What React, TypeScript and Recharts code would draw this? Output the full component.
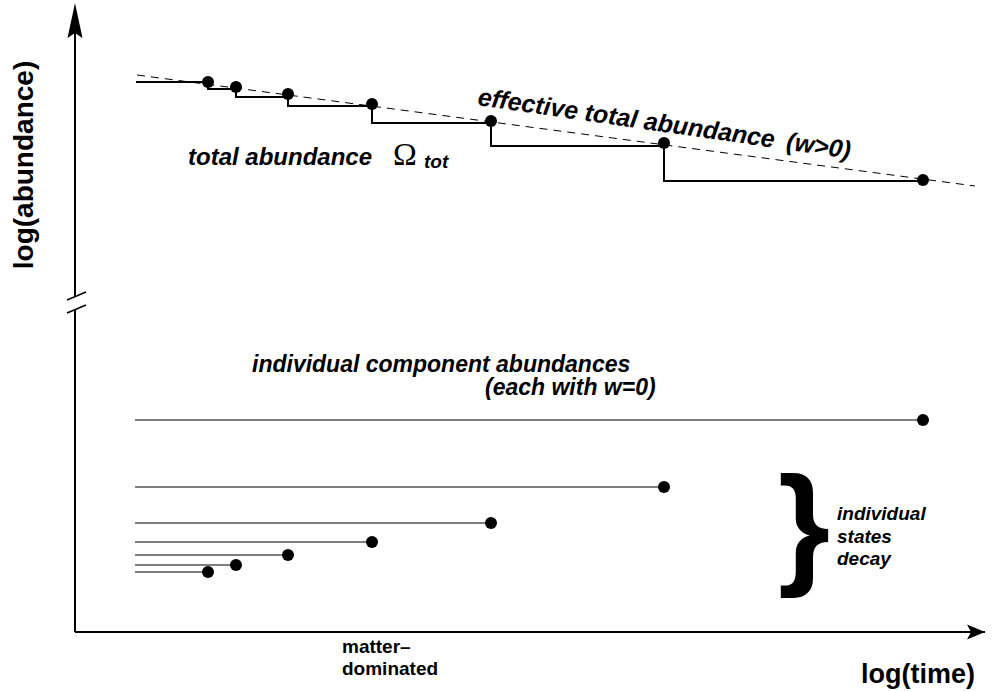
import type { JSX } from 'react'
import {
  ComposedChart,
  Line,
  ReferenceDot,
  ReferenceLine,
  Scatter,
  XAxis,
  YAxis,
} from 'recharts'

// schematic units: log(time) on x, log(abundance) on y
const START_TIME = 6.1
const COMPONENT_START = 6.0
const decayTimes = [13.3, 16.1, 21.3, 29.7, 41.6, 58.9, 84.8]
const totalAtDecay = [55.0, 54.5, 53.8, 52.8, 51.1, 48.9, 45.2]
const totalLevels = [55.0, 54.3, 53.5, 52.6, 50.9, 48.6, 45.1]
const componentLevels = [6.0, 6.7, 7.7, 9.0, 10.9, 14.5, 21.2]
const trendTimes = [6.2, 90]
const trendValues = [55.7, 44.6]

const X_MAX = 91
const Y_MAX = 62.9
const BREAK_LOW = 32.24
const BREAK_HIGH = 33.54

const SANS = '"Liberation Sans", Arial, Helvetica, sans-serif'
const SERIF = '"Liberation Serif", "Times New Roman", serif'
const INK = '#000'

const stepRows = [START_TIME, ...decayTimes].map((x, i) => ({
  x,
  y: totalLevels[Math.min(i, totalLevels.length - 1)],
}))
const totalDots = decayTimes.map((x, i) => ({ x, y: totalAtDecay[i] }))
const componentDots = decayTimes.map((x, i) => ({ x, y: componentLevels[i] }))
const trendRows = trendTimes.map((x, i) => ({ x, y: trendValues[i] }))

const renderDot = (p: any) => <circle cx={p.cx} cy={p.cy} r={6} fill={INK} />

function note(
  key: string,
  x: number,
  y: number,
  draw: (cx: number, cy: number) => JSX.Element,
) {
  return (
    <ReferenceDot
      key={key}
      x={x}
      y={y}
      ifOverflow="visible"
      shape={(p: any) => draw(p.cx, p.cy)}
    />
  )
}

const labelStyle = (size: number, italic = true) => ({
  fontFamily: SANS,
  fontSize: size,
  fontWeight: 700,
  fontStyle: italic ? 'italic' : 'normal',
  fill: INK,
})

export default function App() {
  return (
    <div style={{ position: 'absolute', left: 0, top: 0, background: '#fff' }}>
      <ComposedChart
        width={992}
        height={691}
        margin={{ top: 3, right: 7, bottom: 59, left: 75 }}
      >
        <XAxis
          type="number"
          dataKey="x"
          domain={[0, X_MAX]}
          allowDataOverflow
          hide
        />
        <YAxis
          type="number"
          dataKey="y"
          domain={[0, Y_MAX]}
          allowDataOverflow
          hide
        />

        {/* axes with a break on the vertical one */}
        <ReferenceLine y={0} stroke={INK} strokeWidth={2} />
        <ReferenceLine
          segment={[
            { x: 0, y: 0 },
            { x: 0, y: BREAK_LOW },
          ]}
          stroke={INK}
          strokeWidth={2}
        />
        <ReferenceLine
          segment={[
            { x: 0, y: BREAK_HIGH },
            { x: 0, y: Y_MAX - 2 },
          ]}
          stroke={INK}
          strokeWidth={2}
        />
        <ReferenceLine
          segment={[
            { x: -0.8, y: 33.2 },
            { x: 1.1, y: 34.0 },
          ]}
          ifOverflow="visible"
          stroke={INK}
          strokeWidth={1.5}
        />
        <ReferenceLine
          segment={[
            { x: -0.8, y: 31.9 },
            { x: 1.1, y: 32.7 },
          ]}
          ifOverflow="visible"
          stroke={INK}
          strokeWidth={1.5}
        />
        {note('arrow-x', X_MAX, 0, (cx, cy) => (
          <polygon
            points={`${cx},${cy} ${cx - 18},${cy - 7.5} ${cx - 14},${cy} ${cx - 18},${cy + 7.5}`}
            fill={INK}
          />
        ))}
        {note('arrow-y', 0, Y_MAX, (cx, cy) => (
          <polygon
            points={`${cx},${cy} ${cx + 7.5},${cy + 35} ${cx},${cy + 30} ${cx - 7.5},${cy + 35}`}
            fill={INK}
          />
        ))}

        {/* effective total abundance */}
        <Line
          data={trendRows}
          dataKey="y"
          type="linear"
          stroke={INK}
          strokeWidth={1}
          strokeDasharray="8 6"
          dot={false}
          activeDot={false}
          isAnimationActive={false}
        />
        {/* total abundance, stepping down at each decay */}
        <Line
          data={stepRows}
          dataKey="y"
          type="stepAfter"
          stroke={INK}
          strokeWidth={2}
          dot={false}
          activeDot={false}
          isAnimationActive={false}
        />
        <Scatter
          data={totalDots}
          dataKey="y"
          shape={renderDot}
          isAnimationActive={false}
        />

        {/* individual components */}
        {componentLevels.map((y, i) => (
          <Line
            key={`comp-${i}`}
            data={[
              { x: COMPONENT_START, y },
              { x: decayTimes[i], y },
            ]}
            dataKey="y"
            type="linear"
            stroke={INK}
            strokeWidth={1.2}
            dot={false}
            activeDot={false}
            isAnimationActive={false}
          />
        ))}
        <Scatter
          data={componentDots}
          dataKey="y"
          shape={renderDot}
          isAnimationActive={false}
        />

        {/* labels */}
        {note('ylabel', -4.2, 46.7, (cx, cy) => (
          <text
            x={cx}
            y={cy}
            textAnchor="middle"
            transform={`rotate(-90, ${cx}, ${cy})`}
            style={labelStyle(28, false)}
          >
            log(abundance)
          </text>
        ))}
        {note('xlabel', 78.6, -5.1, (cx, cy) => (
          <text x={cx} y={cy} style={labelStyle(27, false)}>
            log(time)
          </text>
        ))}
        {note('total', 11.3, 46.7, (cx, cy) => (
          <text x={cx} y={cy} style={labelStyle(24)}>
            total abundance
          </text>
        ))}
        {note('omega', 31.8, 46.7, (cx, cy) => (
          <text
            x={cx}
            y={cy}
            style={{ fontFamily: SERIF, fontSize: 32, fill: INK }}
          >
            Ω
          </text>
        ))}
        {note('tot', 34.9, 46.4, (cx, cy) => (
          <text x={cx} y={cy} style={labelStyle(19)}>
            tot
          </text>
        ))}
        {note('effective', 40.2, 52.7, (cx, cy) => (
          <text
            x={cx}
            y={cy}
            transform={`rotate(8.2, ${cx}, ${cy})`}
            style={labelStyle(25)}
          >
            effective total abundance
            <tspan dx={12}>(w&gt;0)</tspan>
          </text>
        ))}
        {note('components', 17.7, 26.0, (cx, cy) => (
          <text x={cx} y={cy} style={labelStyle(23)}>
            individual component abundances
          </text>
        ))}
        {note('each', 41.0, 23.7, (cx, cy) => (
          <text x={cx} y={cy} style={labelStyle(23)}>
            (each with w=0)
          </text>
        ))}
        {note('brace', 72.9, 6.2, (cx, cy) => (
          <text
            x={cx}
            y={cy}
            textAnchor="middle"
            style={{ fontFamily: SANS, fontSize: 134, fontWeight: 700, fill: INK }}
          >
            {'}'}
          </text>
        ))}
        {note('decay', 76.2, 11.2, (cx, cy) => (
          <text x={cx} y={cy} style={labelStyle(19)}>
            <tspan x={cx}>individual</tspan>
            <tspan x={cx} dy={22.5}>
              states
            </tspan>
            <tspan x={cx} dy={22.5}>
              decay
            </tspan>
          </text>
        ))}
        {note('matter', 26.7, -2.1, (cx, cy) => (
          <text x={cx} y={cy} style={labelStyle(19, false)}>
            <tspan x={cx}>matter–</tspan>
            <tspan x={cx} dy={22}>
              dominated
            </tspan>
          </text>
        ))}
      </ComposedChart>
    </div>
  )
}
